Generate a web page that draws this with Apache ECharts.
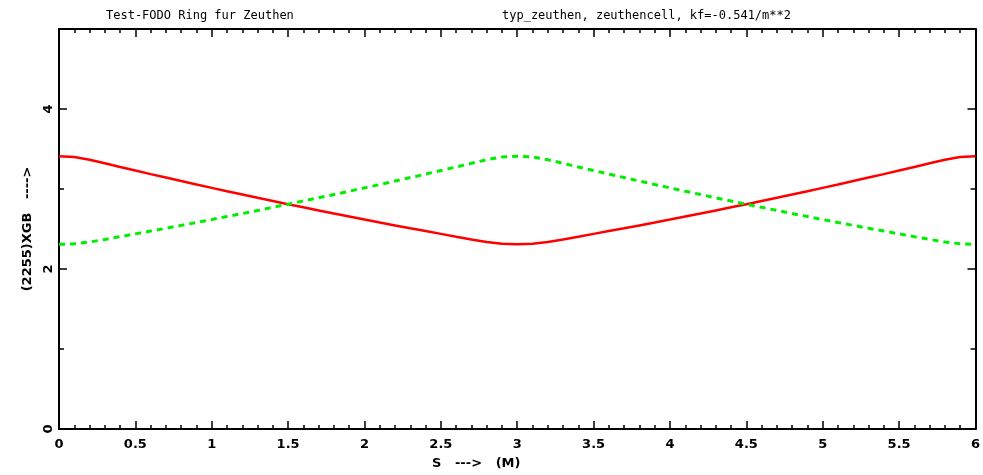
<!DOCTYPE html>
<html>
<head>
<meta charset="utf-8">
<script src="https://cdn.jsdelivr.net/npm/echarts@6/dist/echarts.min.js"></script>
<style>html,body{margin:0;padding:0;background:#fff;}#c{width:983px;height:475px;}</style>
</head>
<body>
<div id="c"></div>
<script>
// positions s (m)
var sPos = [0.0,0.1,0.2,0.3,0.4,0.5,0.6,0.7,0.8,0.9,1.0,1.1,1.2,1.3,1.4,1.5,1.6,1.7,1.8,1.9,2.0,2.1,2.2,2.3,2.4,2.5,2.6,2.7,2.8,2.9,3.0,
            3.1,3.2,3.3,3.4,3.5,3.6,3.7,3.8,3.9,4.0,4.1,4.2,4.3,4.4,4.5,4.6,4.7,4.8,4.9,5.0,5.1,5.2,5.3,5.4,5.5,5.6,5.7,5.8,5.9,6.0];
// red solid curve
var redVals = [3.410,3.400,3.366,3.321,3.275,3.231,3.186,3.143,3.099,3.056,3.014,2.972,2.931,2.890,2.850,2.810,2.771,2.732,2.693,2.656,2.618,2.581,2.545,2.509,2.474,2.439,2.404,2.370,2.337,2.315,2.308,
               2.315,2.337,2.370,2.404,2.439,2.474,2.509,2.545,2.581,2.618,2.656,2.693,2.732,2.771,2.810,2.850,2.890,2.931,2.972,3.014,3.056,3.099,3.143,3.186,3.231,3.275,3.321,3.366,3.400,3.410];
// green dashed curve
var greenVals = [2.308,2.315,2.337,2.370,2.404,2.439,2.474,2.509,2.545,2.581,2.618,2.656,2.693,2.732,2.771,2.810,2.850,2.890,2.931,2.972,3.014,3.056,3.099,3.143,3.186,3.231,3.275,3.321,3.366,3.400,3.410,
                 3.400,3.366,3.321,3.275,3.231,3.186,3.143,3.099,3.056,3.014,2.972,2.931,2.890,2.850,2.810,2.771,2.732,2.693,2.656,2.618,2.581,2.545,2.509,2.474,2.439,2.404,2.370,2.337,2.315,2.308];
var yMajorTicks = [0, 2, 4];
var yMinorTicks = [1, 3];
var titleLeft = 'Test-FODO Ring fur Zeuthen';
var titleRight = 'typ_zeuthen, zeuthencell, kf=-0.541/m**2';
var xName = 'S   --->   (M)';
var yName = '(2255)XGB   ---->';

function pairs(xs, ys) { return xs.map(function (x, i) { return [x, ys[i]]; }); }

var fontFam = '"DejaVu Sans", sans-serif';
var axisLine = { show: true, onZero: false, lineStyle: { color: '#000', width: 2 } };
var tickStyle = { color: '#000', width: 1.5 };

var chart = echarts.init(document.getElementById('c'), null, { renderer: 'canvas' });
chart.setOption({
  animation: false,
  backgroundColor: '#fff',
  title: [
    { text: titleLeft, left: 101, top: 5, textStyle: { fontFamily: '"DejaVu Sans Mono", monospace', fontSize: 12, fontWeight: 'normal', color: '#000' } },
    { text: titleRight, left: 497, top: 5, textStyle: { fontFamily: '"DejaVu Sans Mono", monospace', fontSize: 12, fontWeight: 'normal', color: '#000' } }
  ],
  grid: { left: 59, right: 5, top: 29, bottom: 43, containLabel: false },
  xAxis: [
    {
      type: 'value', min: 0, max: 6, interval: 0.5, position: 'bottom',
      axisLine: axisLine,
      axisTick: { show: true, inside: true, length: 8, lineStyle: tickStyle },
      minorTick: { show: true, splitNumber: 5, length: 4, lineStyle: tickStyle },
      axisLabel: { color: '#000', fontFamily: fontFam, fontWeight: 'bold', fontSize: 13, margin: 9, showMaxLabel: true },
      splitLine: { show: false },
      name: xName, nameLocation: 'middle', nameGap: 28,
      nameTextStyle: { color: '#000', fontFamily: fontFam, fontWeight: 'bold', fontSize: 13, padding: [0, 82, 0, 0] }
    },
    {
      type: 'value', min: 0, max: 6, interval: 0.5, position: 'top',
      axisLine: axisLine,
      axisTick: { show: true, inside: true, length: 8, lineStyle: tickStyle },
      minorTick: { show: true, splitNumber: 5, length: 4, lineStyle: tickStyle },
      axisLabel: { show: false }, splitLine: { show: false }
    }
  ],
  yAxis: [
    {
      type: 'value', min: 0, max: 5, interval: 1, position: 'left',
      axisLine: axisLine,
      axisTick: { show: true, inside: true, length: 8, customValues: yMajorTicks, lineStyle: tickStyle },
      axisLabel: { color: '#000', fontFamily: fontFam, fontWeight: 'bold', fontSize: 13, rotate: 90, margin: 4, customValues: yMajorTicks },
      splitLine: { show: false },
      name: yName, nameLocation: 'middle', nameGap: 17, nameRotate: 90,
      nameTextStyle: { color: '#000', fontFamily: fontFam, fontWeight: 'bold', fontSize: 13 }
    },
    {
      type: 'value', min: 0, max: 5, interval: 1, position: 'right',
      axisLine: axisLine,
      axisTick: { show: true, inside: true, length: 8, customValues: yMajorTicks, lineStyle: tickStyle },
      axisLabel: { show: false }, splitLine: { show: false }
    },
    {
      type: 'value', min: 0, max: 5, interval: 1, position: 'left',
      axisLine: { show: false, onZero: false },
      axisTick: { show: true, inside: true, length: 5, customValues: yMinorTicks, lineStyle: tickStyle },
      axisLabel: { show: false }, splitLine: { show: false }
    },
    {
      type: 'value', min: 0, max: 5, interval: 1, position: 'right',
      axisLine: { show: false, onZero: false },
      axisTick: { show: true, inside: true, length: 5, customValues: yMinorTicks, lineStyle: tickStyle },
      axisLabel: { show: false }, splitLine: { show: false }
    }
  ],
  series: [
    {
      type: 'line', xAxisIndex: 0, yAxisIndex: 0, data: pairs(sPos, redVals),
      showSymbol: false, smooth: false,
      lineStyle: { color: '#ff0000', width: 2.5 }
    },
    {
      type: 'line', xAxisIndex: 0, yAxisIndex: 0, data: pairs(sPos, greenVals),
      showSymbol: false, smooth: false,
      lineStyle: { color: '#00ee00', width: 3, type: [6, 5] }
    }
  ]
});
</script>
</body>
</html>
